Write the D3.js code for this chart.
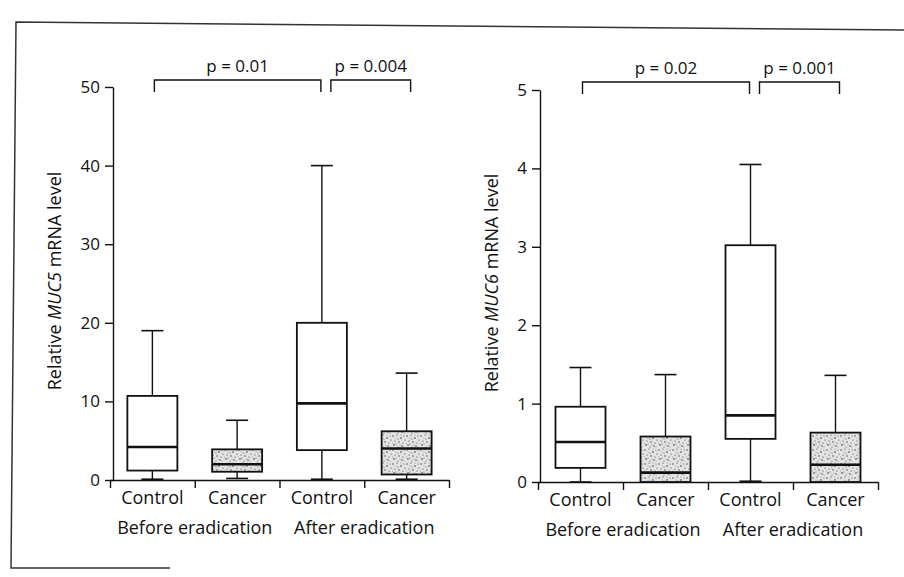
<!DOCTYPE html>
<html>
<head>
<meta charset="utf-8">
<script src="https://cdn.jsdelivr.net/npm/d3@7"></script>
<style>
  body { margin: 0; background: #fff; }
  svg { display: block; font-family: "Open Sans", "DejaVu Sans", sans-serif; }
</style>
</head>
<body>
<div id="container"></div>
<script>
// box plot data
var groups = ["Control", "Cancer", "Control", "Cancer"];
var periods = ["Before eradication", "After eradication"];

var muc5Min = [0.1, 0.2, 0.1, 0.1];
var muc5Q1 = [1.2, 1.05, 3.8, 0.7];
var muc5Median = [4.2, 2.0, 9.75, 4.0];
var muc5Q3 = [10.7, 3.9, 20.0, 6.2];
var muc5Max = [19.0, 7.6, 40.0, 13.6];
var muc5Ticks = [0, 10, 20, 30, 40, 50];
var muc5P = ["p = 0.01", "p = 0.004"];

var muc6Min = [0, 0, 0.01, 0];
var muc6Q1 = [0.18, 0, 0.55, 0];
var muc6Median = [0.51, 0.12, 0.85, 0.22];
var muc6Q3 = [0.96, 0.58, 3.02, 0.63];
var muc6Max = [1.46, 1.37, 4.05, 1.36];
var muc6Ticks = [0, 1, 2, 3, 4, 5];
var muc6P = ["p = 0.02", "p = 0.001"];

// which groups each bracket joins
var pairs = [[0, 2], [2, 3]];

var w = 904;
var h = 577;

var svg = d3
  .select("#container")
  .append("svg")
  .attr("width", w)
  .attr("height", h);

// stipple fill for the cancer boxes
var pat = svg
  .append("defs")
  .append("pattern")
  .attr("id", "stipple")
  .attr("patternUnits", "userSpaceOnUse")
  .attr("width", 14)
  .attr("height", 14);
pat.append("rect").attr("width", 14).attr("height", 14).attr("fill", "#e4e4e4");
var dots = [
  [1, 2, 0.7], [5, 1, 0.6], [9, 4, 0.8], [12, 2, 0.5], [3, 7, 0.6],
  [7, 8, 0.7], [11, 9, 0.6], [2, 11, 0.8], [6, 13, 0.5], [10, 12, 0.7],
  [13, 6, 0.6], [4, 4, 0.4], [8, 11, 0.4], [0, 9, 0.5], [6, 5, 0.5],
  [12, 13, 0.4], [9, 1, 0.4], [4, 10, 0.5]
];
pat
  .selectAll("circle")
  .data(dots)
  .enter()
  .append("circle")
  .attr("cx", (d) => d[0])
  .attr("cy", (d) => d[1])
  .attr("r", (d) => d[2])
  .attr("fill", "#333");

// scanned page frame
svg
  .append("path")
  .attr("d", "M170,568 L11,568 L16,22 L904,30")
  .attr("fill", "none")
  .attr("stroke", "#333")
  .attr("stroke-width", 1.5);

function drawPanel(cfg) {
  var g = svg.append("g");

  var yScale = d3.scaleLinear().domain([0, cfg.ticks[cfg.ticks.length - 1]]).range([cfg.y0, cfg.yTop]);
  var xScale = d3.scaleBand().domain(d3.range(groups.length)).range([cfg.xLeft, cfg.xRight]);
  var xLin = d3.scaleLinear().domain([0, groups.length]).range([cfg.xLeft, cfg.xRight]);

  // y axis
  var yAxis = d3
    .axisLeft(yScale)
    .tickValues(cfg.ticks)
    .tickFormat(d3.format("d"))
    .tickSize(8)
    .tickSizeOuter(0)
    .tickPadding(5);
  var ya = g
    .append("g")
    .attr("transform", "translate(" + cfg.yAxisX + ",0)")
    .call(yAxis);
  ya.attr("font-size", null).attr("font-family", null);
  ya.selectAll("text").style("font-size", "17px").attr("fill", "#111");
  ya.selectAll("line, path").attr("stroke", "#111").attr("stroke-width", 1.4);

  // x axis: ticks on the group borders
  var xAxis = d3.axisBottom(xLin).tickValues(d3.range(groups.length + 1)).tickFormat("").tickSize(8).tickSizeOuter(0);
  var xa = g
    .append("g")
    .attr("transform", "translate(0," + cfg.y0 + ")")
    .call(xAxis);
  xa.selectAll("line, path").attr("stroke", "#111").attr("stroke-width", 1.4);

  g.selectAll(".grp")
    .data(groups)
    .enter()
    .append("text")
    .attr("class", "grp")
    .attr("x", (d, i) => xScale(i) + xScale.bandwidth() / 2)
    .attr("y", cfg.y0 + 24)
    .attr("text-anchor", "middle")
    .style("font-size", "18px")
    .attr("fill", "#111")
    .text((d) => d);

  g.selectAll(".per")
    .data(periods)
    .enter()
    .append("text")
    .attr("class", "per")
    .attr("x", (d, i) => xLin(i * 2 + 1))
    .attr("y", cfg.y0 + 54)
    .attr("text-anchor", "middle")
    .style("font-size", "18px")
    .attr("fill", "#111")
    .text((d) => d);

  // y title with italic gene name
  var title = g
    .append("text")
    .attr("transform", "translate(" + cfg.titleX + "," + cfg.titleY + ") rotate(-90)")
    .attr("text-anchor", "middle")
    .style("font-size", "18px")
    .attr("fill", "#111");
  title.append("tspan").text("Relative ");
  title.append("tspan").style("font-style", "italic").text(cfg.gene);
  title.append("tspan").text(" mRNA level");

  var boxW = 50;
  var capW = 22;
  var cx = (i) => xScale(i) + xScale.bandwidth() / 2;

  var boxes = g
    .selectAll(".box")
    .data(groups)
    .enter()
    .append("g")
    .attr("class", "box");

  // whiskers
  boxes
    .append("line")
    .attr("x1", (d, i) => cx(i))
    .attr("x2", (d, i) => cx(i))
    .attr("y1", (d, i) => yScale(cfg.max[i]))
    .attr("y2", (d, i) => yScale(cfg.q3[i]))
    .attr("stroke", "#111")
    .attr("stroke-width", 1.4);
  boxes
    .append("line")
    .attr("x1", (d, i) => cx(i))
    .attr("x2", (d, i) => cx(i))
    .attr("y1", (d, i) => yScale(cfg.q1[i]))
    .attr("y2", (d, i) => yScale(cfg.min[i]))
    .attr("stroke", "#111")
    .attr("stroke-width", 1.4);
  boxes
    .append("line")
    .attr("x1", (d, i) => cx(i) - capW / 2)
    .attr("x2", (d, i) => cx(i) + capW / 2)
    .attr("y1", (d, i) => yScale(cfg.max[i]))
    .attr("y2", (d, i) => yScale(cfg.max[i]))
    .attr("stroke", "#111")
    .attr("stroke-width", 1.6);
  boxes
    .append("line")
    .attr("x1", (d, i) => cx(i) - capW / 2)
    .attr("x2", (d, i) => cx(i) + capW / 2)
    .attr("y1", (d, i) => yScale(cfg.min[i]))
    .attr("y2", (d, i) => yScale(cfg.min[i]))
    .attr("stroke", "#111")
    .attr("stroke-width", 1.6);

  boxes
    .append("rect")
    .attr("x", (d, i) => cx(i) - boxW / 2)
    .attr("width", boxW)
    .attr("y", (d, i) => yScale(cfg.q3[i]))
    .attr("height", (d, i) => yScale(cfg.q1[i]) - yScale(cfg.q3[i]))
    .attr("fill", (d) => (d === "Cancer" ? "url(#stipple)" : "#fff"))
    .attr("stroke", "#111")
    .attr("stroke-width", 1.8);

  boxes
    .append("line")
    .attr("x1", (d, i) => cx(i) - boxW / 2)
    .attr("x2", (d, i) => cx(i) + boxW / 2)
    .attr("y1", (d, i) => yScale(cfg.median[i]))
    .attr("y2", (d, i) => yScale(cfg.median[i]))
    .attr("stroke", "#111")
    .attr("stroke-width", 2.6);

  // significance brackets
  var br = g
    .selectAll(".br")
    .data(pairs)
    .enter()
    .append("g")
    .attr("class", "br");
  var bx1 = (d, k) => cx(d[0]) + (k === 0 ? 2 : 9);
  var bx2 = (d, k) => cx(d[1]) + (k === 0 ? -1 : 4);
  br.append("path")
    .attr("d", (d, k) =>
      "M" + bx1(d, k) + "," + (cfg.brY + 12) +
      "V" + cfg.brY + "H" + bx2(d, k) + "V" + (cfg.brY + 12))
    .attr("fill", "none")
    .attr("stroke", "#111")
    .attr("stroke-width", 1.4);
  br.append("text")
    .attr("x", (d, k) => (bx1(d, k) + bx2(d, k)) / 2)
    .attr("y", cfg.brY - 8)
    .attr("text-anchor", "middle")
    .style("font-size", "17px")
    .attr("fill", "#111")
    .text((d, k) => cfg.p[k]);
}

drawPanel({
  gene: "MUC5",
  min: muc5Min, q1: muc5Q1, median: muc5Median, q3: muc5Q3, max: muc5Max,
  ticks: muc5Ticks, p: muc5P,
  y0: 480, yTop: 87, xLeft: 110, xRight: 449, yAxisX: 113,
  titleX: 61, titleY: 281, brY: 80
});

drawPanel({
  gene: "MUC6",
  min: muc6Min, q1: muc6Q1, median: muc6Median, q3: muc6Q3, max: muc6Max,
  ticks: muc6Ticks, p: muc6P,
  y0: 482, yTop: 90, xLeft: 538, xRight: 878, yAxisX: 540,
  titleX: 498, titleY: 283, brY: 82
});
</script>
</body>
</html>
